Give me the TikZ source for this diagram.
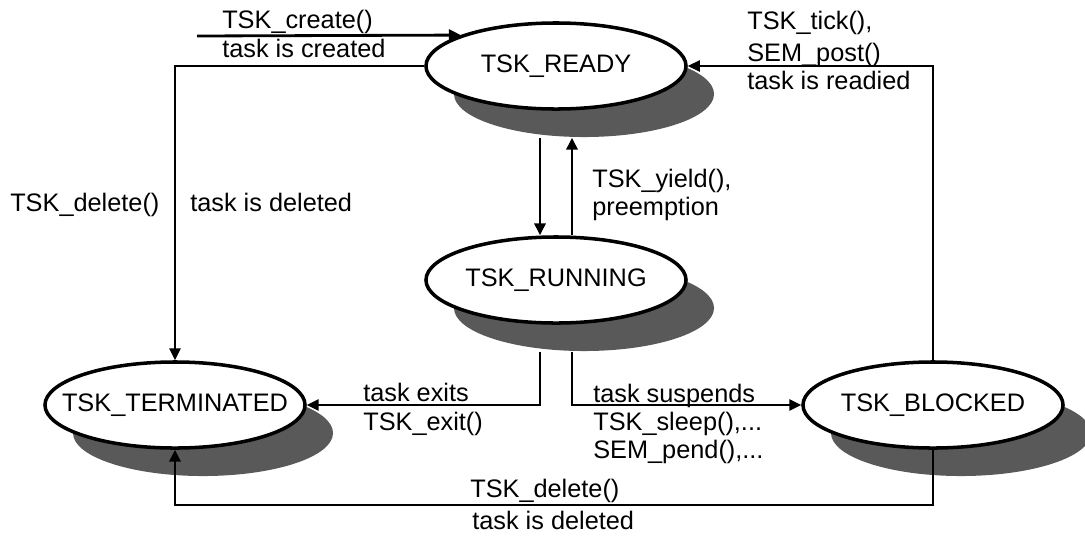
\documentclass[tikz,border=0pt]{standalone}
\usepackage{fontspec}
\setmainfont{Liberation Sans}
\usetikzlibrary{shapes.geometric,shadows,arrows.meta}
\definecolor{shadegray}{HTML}{595959}
\newcommand{\tskname}[1]{\makebox[0pt]{#1}}

\begin{document}
\begin{tikzpicture}[x=0.025cm, y=-0.025cm, font=\fontsize{18}{20}\selectfont,
    state/.style={ellipse, draw, line width=2.5pt, fill=white, inner sep=0pt,
      minimum width=6.5cm, minimum height=2.15cm,
      drop shadow={shadow xshift=0.7cm, shadow yshift=-0.7cm, fill=shadegray, opacity=1}},
    wire/.style={line width=2pt, -{Triangle[length=8.5pt,width=8pt]}},
    thinwire/.style={wire, line width=1pt},
    note/.style={anchor=base west, inner sep=0pt}]
  \useasboundingbox (0,0) rectangle (1085,535);

  % states
  \node[state] (ready) at (556,66) {\tskname{TSK\_READY}};
  \node[state] (run) at (556,280) {\tskname{TSK\_RUNNING}};
  \node[state] (term) at (175,405) {\tskname{TSK\_TERMINATED}};
  \node[state] (block) at (933,405) {\tskname{TSK\_BLOCKED}};

  % wires leave from below the shadows
  \coordinate (readyfoot) at ([shift={(28,27)}]ready.south);
  \coordinate (runfoot) at ([shift={(28,27)}]run.south);
  \coordinate (spawn) at (197,36);
  \coordinate (floor) at (0,505);

  \draw[wire] (spawn) -- (ready.162);
  \node[note] at (222,28) {TSK\_create()};
  \node[note] at (222,57) {task is created};

  \draw[wire, line width=1.5pt] (ready.west) -| (term.north);
  \node[note] at (10,211) {TSK\_delete()};
  \node[note] at (190,211) {task is deleted};

  \draw[wire] ([xshift=-0.4cm]run.north |- readyfoot) -- ([xshift=-0.4cm]run.north);
  \draw[wire] ([xshift=0.4cm]run.north) -- ([xshift=0.4cm]run.north |- readyfoot);
  \node[note] at (592,187) {TSK\_yield(),};
  \node[note] at (592,215) {preemption};

  \draw[thinwire] (block.north) |- (ready.east);
  \node[note] at (747,29) {TSK\_tick(),};
  \node[note] at (747,61) {SEM\_post()};
  \node[note] at (747,89) {task is readied};

  \draw[wire, line width=1.5pt] ([xshift=-0.4cm]run.north |- runfoot) |- (term.east);
  \node[note] at (363,401) {task exits};
  \node[note] at (363,430) {TSK\_exit()};

  \draw[wire, line width=1.5pt] ([xshift=0.4cm]run.north |- runfoot) |- (block.west);
  \node[note] at (593,402) {task suspends};
  \node[note] at (593,430) {TSK\_sleep(),...};
  \node[note] at (593,458) {SEM\_pend(),...};

  \draw[wire] (block.south) -- (block.south |- floor) -| (term.south);
  \node[note] at (470,497) {TSK\_delete()};
  \node[note] at (472,529) {task is deleted};
\end{tikzpicture}
\end{document}
